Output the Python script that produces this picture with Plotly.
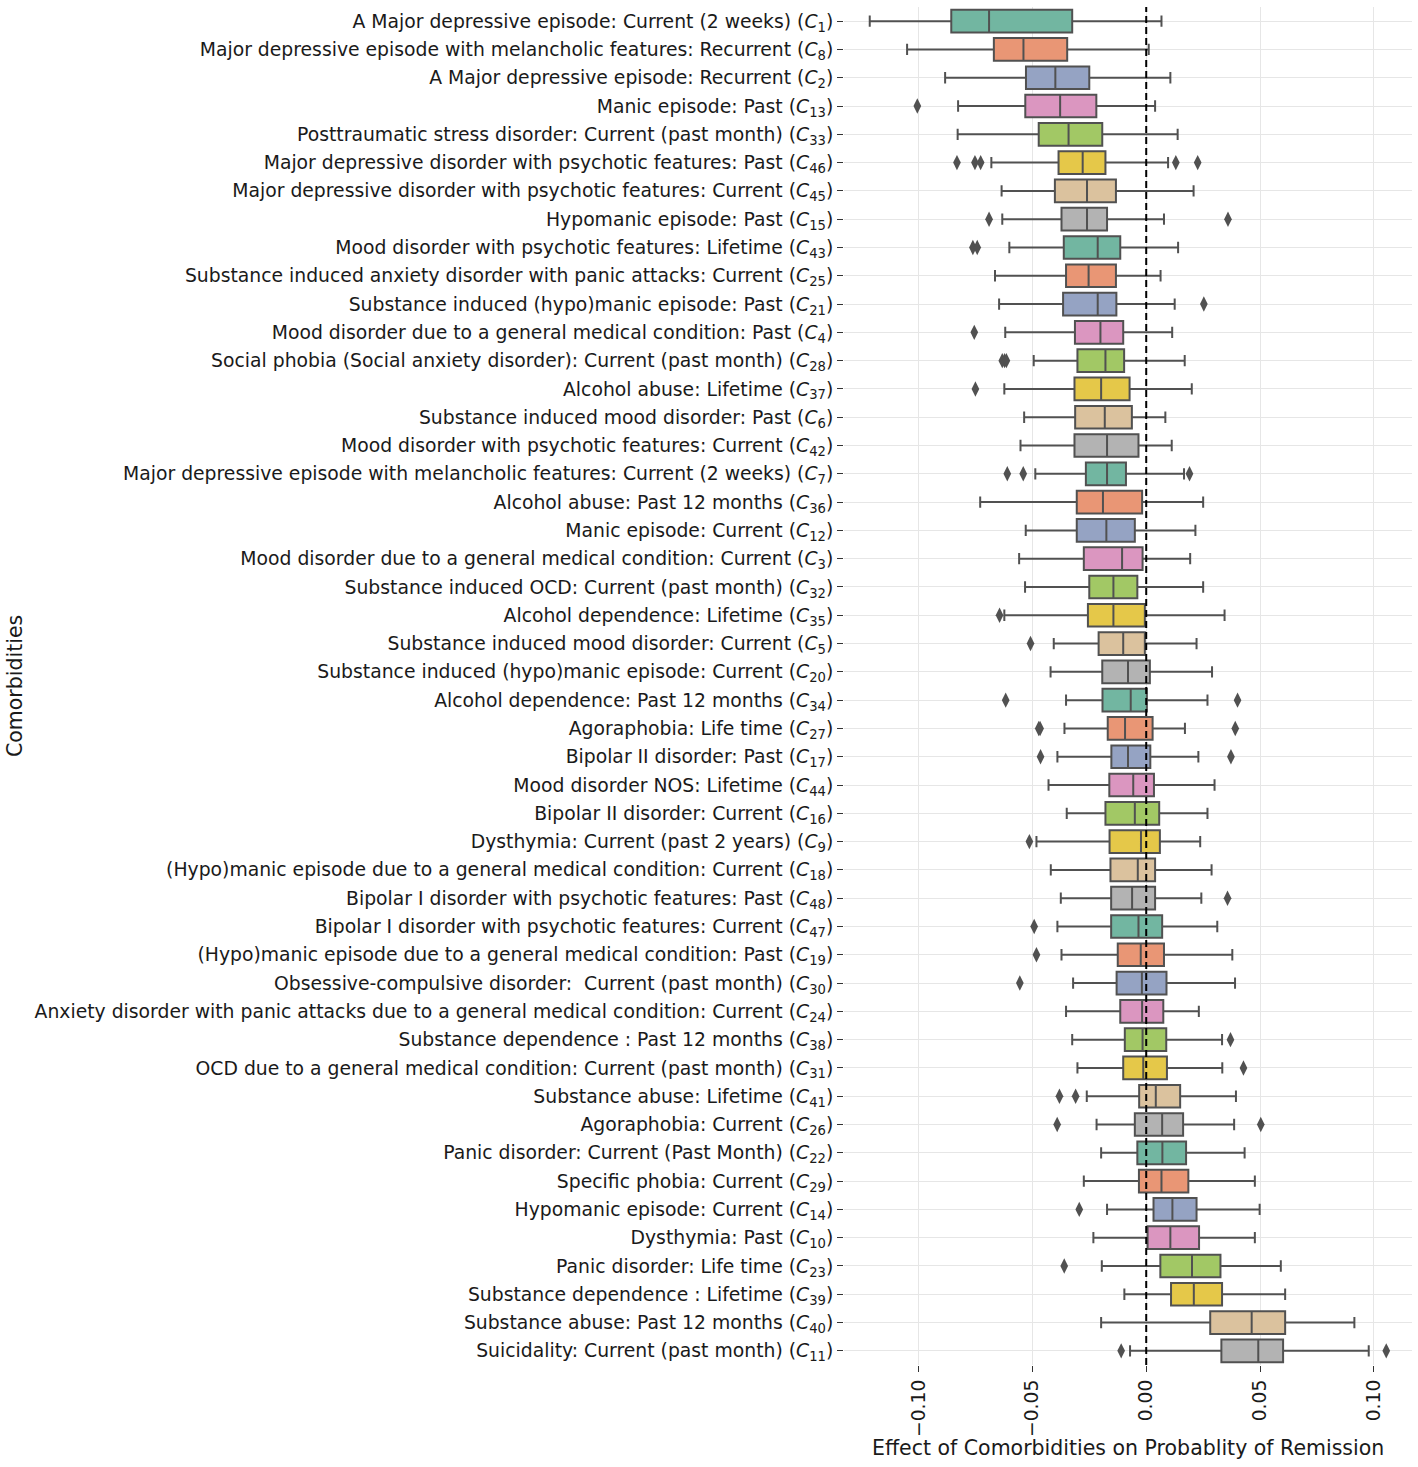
import colorsys
import plotly.graph_objects as go

# ---------------- data ----------------
names = [
    "A Major depressive episode: Current (2 weeks)",
    "Major depressive episode with melancholic features: Recurrent",
    "A Major depressive episode: Recurrent",
    "Manic episode: Past",
    "Posttraumatic stress disorder: Current (past month)",
    "Major depressive disorder with psychotic features: Past",
    "Major depressive disorder with psychotic features: Current",
    "Hypomanic episode: Past",
    "Mood disorder with psychotic features: Lifetime",
    "Substance induced anxiety disorder with panic attacks: Current",
    "Substance induced (hypo)manic episode: Past",
    "Mood disorder due to a general medical condition: Past",
    "Social phobia (Social anxiety disorder): Current (past month)",
    "Alcohol abuse: Lifetime",
    "Substance induced mood disorder: Past",
    "Mood disorder with psychotic features: Current",
    "Major depressive episode with melancholic features: Current (2 weeks)",
    "Alcohol abuse: Past 12 months",
    "Manic episode: Current",
    "Mood disorder due to a general medical condition: Current",
    "Substance induced OCD: Current (past month)",
    "Alcohol dependence: Lifetime",
    "Substance induced mood disorder: Current",
    "Substance induced (hypo)manic episode: Current",
    "Alcohol dependence: Past 12 months",
    "Agoraphobia: Life time",
    "Bipolar II disorder: Past",
    "Mood disorder NOS: Lifetime",
    "Bipolar II disorder: Current",
    "Dysthymia: Current (past 2 years)",
    "(Hypo)manic episode due to a general medical condition: Current",
    "Bipolar I disorder with psychotic features: Past",
    "Bipolar I disorder with psychotic features: Current",
    "(Hypo)manic episode due to a general medical condition: Past",
    "Obsessive-compulsive disorder:\u00a0 Current (past month)",
    "Anxiety disorder with panic attacks due to a general medical condition: Current",
    "Substance dependence : Past 12 months",
    "OCD due to a general medical condition: Current (past month)",
    "Substance abuse: Lifetime",
    "Agoraphobia: Current",
    "Panic disorder: Current (Past Month)",
    "Specific phobia: Current",
    "Hypomanic episode: Current",
    "Dysthymia: Past",
    "Panic disorder: Life time",
    "Substance dependence : Lifetime",
    "Substance abuse: Past 12 months",
    "Suicidality: Current (past month)",
]
codes = [1, 8, 2, 13, 33, 46, 45, 15, 43, 25, 21, 4, 28, 37, 6, 42, 7, 36, 12, 3,
         32, 35, 5, 20, 34, 27, 17, 44, 16, 9, 18, 48, 47, 19, 30, 24, 38, 31, 41, 26,
         22, 29, 14, 10, 23, 39, 40, 11]

lower = [-0.1214, -0.105, -0.0883, -0.0826, -0.0828, -0.068, -0.0635, -0.0632, -0.0601, -0.0664,
         -0.0646, -0.0619, -0.0494, -0.0623, -0.0536, -0.0552, -0.0487, -0.0729, -0.0529, -0.0558,
         -0.0532, -0.0623, -0.0406, -0.042, -0.0352, -0.0359, -0.039, -0.0429, -0.0349, -0.0482,
         -0.0419, -0.0375, -0.039, -0.0372, -0.0321, -0.0352, -0.0325, -0.0302, -0.0261, -0.0218,
         -0.0198, -0.0274, -0.0172, -0.0232, -0.0195, -0.0096, -0.0198, -0.0071]
q1 = [-0.0856, -0.0669, -0.0528, -0.0531, -0.0472, -0.0385, -0.0401, -0.0372, -0.0362, -0.0352,
      -0.0365, -0.0313, -0.0302, -0.0315, -0.0312, -0.0315, -0.0265, -0.0305, -0.0305, -0.0274,
      -0.025, -0.0256, -0.0209, -0.0193, -0.0192, -0.0169, -0.0153, -0.0162, -0.0179, -0.0161,
      -0.0157, -0.0154, -0.0154, -0.0125, -0.013, -0.0114, -0.0094, -0.0101, -0.0031, -0.005,
      -0.0039, -0.0032, 0.0032, 0.0006, 0.0062, 0.0109, 0.0281, 0.033]
median = [-0.069, -0.0539, -0.0399, -0.0378, -0.0341, -0.0279, -0.026, -0.026, -0.0213, -0.0253,
          -0.0213, -0.0201, -0.0179, -0.0198, -0.0182, -0.0172, -0.0172, -0.019, -0.0175, -0.0106,
          -0.0144, -0.0144, -0.0101, -0.008, -0.0068, -0.0093, -0.008, -0.0057, -0.005, -0.0023,
          -0.0037, -0.0062, -0.0034, -0.0024, -0.0019, -0.0018, -0.0016, -0.0013, 0.0042, 0.007,
          0.0071, 0.0067, 0.0115, 0.0106, 0.0201, 0.0209, 0.0463, 0.0492]
q3 = [-0.0325, -0.0347, -0.025, -0.0219, -0.0193, -0.0179, -0.0133, -0.0172, -0.0114, -0.0133,
      -0.0131, -0.0101, -0.0097, -0.0073, -0.0063, -0.0034, -0.0089, -0.0018, -0.005, -0.0016,
      -0.0039, -0.0006, -0.0006, 0.0016, 0.0003, 0.0028, 0.0018, 0.0034, 0.0057, 0.006,
      0.0039, 0.0039, 0.007, 0.0078, 0.0089, 0.0075, 0.0088, 0.0091, 0.0149, 0.0162,
      0.0175, 0.0185, 0.0221, 0.0232, 0.0326, 0.0333, 0.061, 0.0601]
upper = [0.0067, 0.0011, 0.0106, 0.0039, 0.0138, 0.0096, 0.0208, 0.0078, 0.014, 0.0063,
         0.0125, 0.0114, 0.0169, 0.02, 0.0084, 0.0112, 0.0166, 0.025, 0.0216, 0.0193,
         0.025, 0.0344, 0.0221, 0.0289, 0.0269, 0.017, 0.0229, 0.03, 0.0269, 0.0237,
         0.0287, 0.0242, 0.0312, 0.0378, 0.039, 0.0231, 0.0333, 0.0334, 0.0394, 0.0386,
         0.0432, 0.0477, 0.0498, 0.0477, 0.0591, 0.061, 0.0914, 0.0977]
outliers = [
    [], [], [], [-0.1005], [], [-0.0831, -0.0752, -0.0727, 0.013, 0.0226], [],
    [-0.069, 0.0359], [-0.0761, -0.0742], [], [0.0253], [-0.0755],
    [-0.0632, -0.0622, -0.0614], [-0.075], [], [], [-0.061, -0.054, 0.019], [], [], [],
    [], [-0.0644], [-0.0508], [], [-0.0617, 0.0401], [-0.0472, -0.0466, 0.0391],
    [-0.0464, 0.0372], [], [], [-0.0513], [], [0.0357], [-0.0492], [-0.0482], [-0.0555],
    [], [0.037], [0.0427], [-0.0381, -0.031], [-0.0391, 0.0503], [], [], [-0.0294], [],
    [-0.036], [], [], [-0.011, 0.1054],
]
x_ticks = [-0.10, -0.05, 0.00, 0.05, 0.10]

# ---------------- style ----------------
set2 = ["#66c2a5", "#fc8d62", "#8da0cb", "#e78ac3", "#a6d854", "#ffd92f", "#e5c494", "#b3b3b3"]


def desat(hexc, f=0.75):
    r, g, b = (int(hexc[i:i + 2], 16) / 255 for i in (1, 3, 5))
    h, l, s = colorsys.rgb_to_hls(r, g, b)
    r, g, b = colorsys.hls_to_rgb(h, l, s * f)
    return "rgb(%d,%d,%d)" % (round(r * 255), round(g * 255), round(b * 255))


palette = [desat(c) for c in set2]
edge = "#515151"
FONT = "DejaVu Sans"
TICK = 18.8
TITLE = 20.5

labels = ["%s (<i>C</i><sub>%d</sub>)" % (n, c) for n, c in zip(names, codes)]

fig = go.Figure()
for i, lab in enumerate(labels):
    fig.add_trace(go.Box(
        y=[lab], q1=[q1[i]], median=[median[i]], q3=[q3[i]],
        lowerfence=[lower[i]], upperfence=[upper[i]],
        orientation="h", boxpoints=False, width=0.8, whiskerwidth=0.5,
        fillcolor=palette[i % len(palette)],
        line=dict(color=edge, width=2),
        showlegend=False, hoverinfo="skip",
    ))

ox, oy = [], []
for lab, outs in zip(labels, outliers):
    for v in outs:
        ox.append(v)
        oy.append(lab)
fig.add_trace(go.Scatter(
    x=ox, y=oy, mode="markers",
    marker=dict(symbol="diamond-tall", size=11, color=edge),
    showlegend=False, hoverinfo="skip",
))

fig.add_shape(type="line", xref="x", yref="paper", x0=0, x1=0, y0=0, y1=1,
              line=dict(color="black", width=2, dash="7px,4px"), layer="above")

fig.update_layout(
    width=1418, height=1467,
    margin=dict(l=844, r=6, t=7, b=102),
    paper_bgcolor="white", plot_bgcolor="white",
    font=dict(family=FONT, size=TICK, color="#1a1a1a"),
    boxmode="overlay",
    xaxis=dict(
        range=[-0.1327, 0.1167], tickvals=x_ticks, tickformat=".2f",
        tickangle=-90, ticks="outside", ticklen=6, tickwidth=1.3, tickcolor="#333",
        showgrid=True, gridcolor="#e6e6e6", gridwidth=1, zeroline=False,
        showline=False, tickfont=dict(size=TICK),
    ),
    yaxis=dict(
        type="category", categoryorder="array", categoryarray=labels,
        range=[len(labels) - 0.5, -0.5],
        ticks="outside", ticklen=6, tickwidth=1.3, tickcolor="#333",
        showgrid=True, gridcolor="#e6e6e6", gridwidth=1, zeroline=False,
        showline=False, tickfont=dict(size=TICK), automargin=False,
    ),
    annotations=[
        dict(text="Comorbidities", xref="paper", yref="paper",
             x=(15 - 844) / 568, y=0.5, textangle=-90, showarrow=False,
             xanchor="center", yanchor="middle", font=dict(size=TITLE)),
        dict(text="Effect of Comorbidities on Probablity of Remission",
             xref="paper", yref="paper", x=0.5, y=(1365 - 1448) / 1358,
             showarrow=False, xanchor="center", yanchor="middle",
             font=dict(size=TITLE)),
    ],
)

fig.write_html("out.html", config={"displayModeBar": False})

# remove the default page margin so the figure sits at the window's top-left corner
with open("out.html", encoding="utf-8") as fh:
    html = fh.read()
html = html.replace("<head>", "<head><style>html,body{margin:0;padding:0;overflow:hidden;}</style>", 1)
with open("out.html", "w", encoding="utf-8") as fh:
    fh.write(html)
